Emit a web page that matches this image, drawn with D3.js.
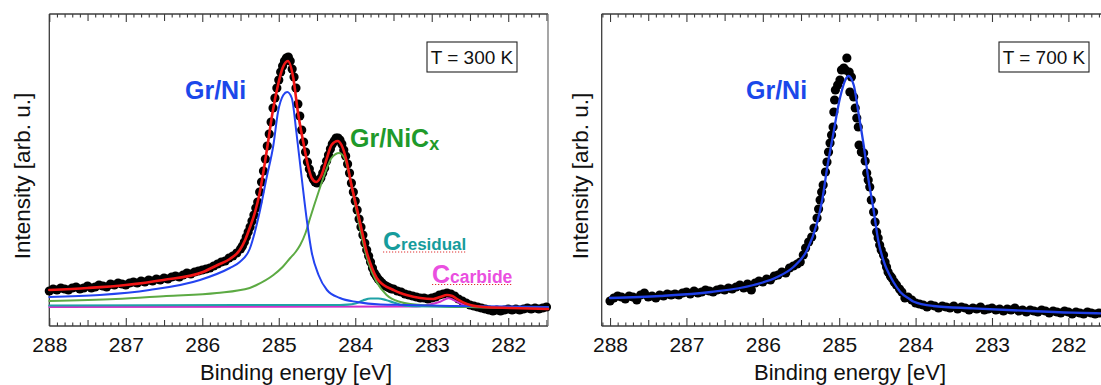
<!DOCTYPE html>
<html><head><meta charset="utf-8">
<script src="https://cdn.jsdelivr.net/npm/d3@7"></script>
<style>
html,body{margin:0;padding:0;background:#fff;}
svg{display:block;font-family:"Liberation Sans",Arial,Helvetica,sans-serif;}
</style></head><body>
<svg id="chart" width="1101" height="385"></svg>
<script>
// ---------- DATA ----------
const xTickValues = [288, 287, 286, 285, 284, 283, 282];
const xTickLabels = ["288", "287", "286", "285", "284", "283", "282"];
const axisTitleX = "Binding energy [eV]";
const axisTitleY = "Intensity [arb. u.]";
const tempLabels = ["T = 300 K", "T = 700 K"];

// Panel A (300 K): measured points
const energyDotsA = [
288.00,287.95,287.90,287.85,287.80,287.75,287.70,287.65,287.60,287.55,
287.50,287.45,287.40,287.35,287.30,287.25,287.20,287.15,287.10,287.05,
287.00,286.95,286.90,286.85,286.80,286.75,286.70,286.65,286.60,286.55,
286.50,286.45,286.40,286.35,286.30,286.25,286.20,286.15,286.10,286.05,
286.00,285.95,285.90,285.85,285.80,285.75,285.70,285.65,285.60,285.55,
285.50,
285.475,285.45,285.425,285.40,285.375,285.35,285.325,285.30,285.275,285.25,
285.225,285.20,285.175,285.15,285.125,285.10,285.075,285.05,285.025,285.00,
284.975,284.95,284.925,284.90,284.875,284.85,284.825,284.80,284.775,284.75,
284.725,284.70,284.675,284.65,284.625,284.60,284.575,284.55,284.525,284.50,
284.475,284.45,284.425,284.40,
284.375,284.35,284.325,284.30,284.275,284.25,284.225,284.20,284.175,284.15,
284.125,284.10,284.075,284.05,284.025,284.00,283.975,283.95,283.925,283.90,
283.875,283.85,283.825,283.80,283.775,283.75,283.725,283.70,283.675,283.65,
283.625,283.60,283.575,283.55,283.525,283.50,
283.45,283.40,283.35,283.30,283.25,283.20,283.15,283.10,283.05,283.00,
282.95,282.90,282.85,282.80,282.75,282.70,282.65,282.60,282.55,282.50,
282.45,282.40,282.35,282.30,282.25,282.20,282.15,282.10,282.05,282.00,
281.95,281.90,281.85,281.80,281.75,281.70,281.65,281.60,281.55,281.50];
const countsDotsA = [
35,37,36,38,37,36,38,39,37,38,
40,38,39,41,40,39,42,41,43,42,
41,43,44,43,45,44,46,45,47,46,
48,47,49,50,49,51,53,52,54,55,
56,57,58,60,62,64,65,68,70,73,
77,
80,84,89,94,99,105,111,118,124,134,
144,155,167,180,192,204,218,228,238,246,
254,260,265,268,269,265,257,249,238,222,
210,196,184,174,164,157,151,147,144,143,
145,148,153,158,
165,171,177,182,185,188,188,186,182,176,
170,162,153,143,134,125,116,107,99,91,
83,76,70,64,58,53,50,47,45,43,
41,40,39,38,37,37,
35,34,32,31,30,29,28,28,27,28,
29,31,32,33,32,30,27,25,23,21,
20,19,18,17,16,15,16,15,16,17,
16,17,16,17,18,17,18,17,18,19];

// Panel A: total fit (red)
const energyFitA = [288.00,287.50,287.00,286.51,285.99,285.80,285.64,285.51,285.44,285.38,285.31,285.25,285.18,285.14,285.08,285.01,284.95,284.88,284.81,284.75,284.68,284.61,284.57,284.51,284.44,284.37,284.31,284.23,284.18,284.11,284.05,283.98,283.91,283.85,283.78,283.72,283.63,283.50,283.41,283.33,283.15,282.98,282.89,282.80,282.73,282.67,282.54,282.33,281.97,281.48];
const totalFitA = [36,38,41,46,54,61,67,76,86,98,114,133,164,184,214,241,258,265,248,214,184,158,148,144,151,168,181,185,181,164,141,118,94,74,58,48,41,36,33,31,28,27,29,31,30,27,22,19,18,17];

// Panel A: Gr/Ni component (blue)
const energyGrNiA = [288.00,287.34,286.69,286.03,285.64,285.51,285.38,285.25,285.16,285.07,285.01,284.94,284.89,284.83,284.77,284.70,284.63,284.57,284.48,284.37,284.20,283.98,283.67,283.33,282.76,281.48];
const grNiA = [29,31,36,46,58,64,77,114,148,181,214,231,234,228,194,148,104,74,51,36,28,24,21.5,21,20,19];

// Panel A: Gr/NiCx component (green)
const energyGrNiCxA = [288.00,287.13,286.47,285.81,285.38,285.29,285.07,284.95,284.85,284.78,284.72,284.65,284.59,284.48,284.39,284.31,284.21,284.13,284.07,283.98,283.91,283.83,283.72,283.59,283.41,283.28,282.76,281.48];
const grNiCxA = [25,27,30,33,38,41,51,59,68,74,81,93,108,134,154,168,173,166,148,114,88,64,44,31,24,22,19.5,18];

// Panel A: C residual component (teal)
const energyResidualA = [288.00,285.50,284.20,284.10,284.00,283.90,283.80,283.70,283.60,283.50,283.40,283.30,282.50,281.48];
const residualA = [20.5,21,21,21.3,22.5,25.5,27.5,27.5,26,23.5,21,20,19,18.5];

// Panel A: C carbide component (magenta)
const energyCarbideA = [288.00,283.20,283.06,282.89,282.78,282.67,282.54,282.30,281.48];
const carbideA = [19,19.5,21,24.3,27.7,24.3,20,19,18.5];

// Panel B (700 K): measured points
const energyDotsB = [
288.00,287.95,287.90,287.85,287.80,287.75,287.70,287.65,287.60,287.55,
287.50,287.45,287.40,287.35,287.30,287.25,287.20,287.15,287.10,287.05,
287.00,286.95,286.90,286.85,286.80,286.75,286.70,286.65,286.60,286.55,
286.50,286.45,286.40,286.35,286.30,286.25,286.20,286.15,286.10,286.05,
286.00,285.95,285.90,285.85,285.80,285.75,285.70,285.65,285.60,
285.55,285.51,285.47,285.44,285.40,285.36,285.33,285.29,285.27,285.25,
285.23,285.21,285.18,285.16,285.14,285.12,285.10,285.08,285.07,285.06,
285.05,285.02,284.99,284.97,284.94,284.92,284.90,284.87,284.86,284.84,
284.81,284.79,284.77,284.75,284.74,284.71,284.68,284.66,284.64,284.62,
284.60,284.58,284.55,284.53,284.51,284.49,284.47,284.45,284.42,284.40,
284.38,284.36,284.33,284.31,284.28,284.25,284.21,284.18,284.14,284.10,
284.05,284.00,283.95,283.90,283.85,283.80,283.75,283.70,283.65,283.60,
283.55,283.50,283.45,283.40,283.35,283.30,283.25,283.20,283.15,283.10,
283.05,283.00,282.95,282.90,282.85,282.80,282.75,282.70,282.65,282.60,
282.55,282.50,282.45,282.40,282.35,282.30,282.25,282.20,282.15,282.10,
282.05,282.00,281.95,281.90,281.85,281.80,281.75,281.70,281.65,281.60];
const countsDotsB = [
25,28,30,29,27,30,29,26,31,33,
29,30,28,31,30,32,31,32,31,33,
34,32,35,33,34,36,35,34,36,37,
36,38,37,39,41,38,42,36,43,45,
44,47,46,50,51,54,53,58,60,
62,64,71,78,84,89,98,108,117,126,
134,141,154,164,174,183,191,199,214,226,
236,241,246,256,258,256,268,254,234,249,
229,218,208,199,181,174,173,165,153,146,
139,126,114,104,94,88,81,76,71,64,
59,54,50,48,44,41,37,34,28,29,
26,23,22,21,19,21,20,18,20,19,
18,20,17,19,18,16,18,17,19,16,
17,18,16,17,15,17,16,18,15,16,
14,16,15,14,16,15,13,15,14,13,
15,14,12,14,13,12,14,13,12,13];

// Panel B: Gr/Ni fit (blue)
const energyFitB = [288.00,287.34,286.68,286.12,285.81,285.60,285.42,285.29,285.22,285.16,285.08,284.99,284.92,284.88,284.81,284.75,284.68,284.62,284.55,284.49,284.40,284.34,284.29,284.20,284.08,284.03,283.77,283.25,282.60,281.95,281.55];
const fitB = [28,30,34,41,49,59,76,103,127,157,191,228,246,250,241,214,181,148,116,86,61,51,44,34,27,24.5,20,17.7,15.3,13.3,12.6];

// ---------- DRAWING ----------
const svg = d3.select("#chart");
const plotTop = 14, plotBottom = 326;
const y = d3.scaleLinear().domain([0, 312]).range([plotBottom, plotTop]);
const frameColor = "#3c3c3c";
const FONT = '"Liberation Sans", Arial, Helvetica, sans-serif';

function zip(e, v) { return e.map((d, i) => ({ e: d, v: v[i] })); }

function drawPanel(cfg) {
  const x = d3.scaleLinear().domain(cfg.domain).range([cfg.x0, cfg.x1]);
  const g = svg.append("g");
  const lo = Math.min(...cfg.domain), hi = Math.max(...cfg.domain);
  const all = d3.range(Math.ceil(lo * 10 - 1e-6), Math.floor(hi * 10 + 1e-6) + 1).map(d => d / 10);
  const minor = all.filter(d => Math.round(d * 10) % 5 !== 0);
  const half = all.filter(d => Math.round(d * 10) % 5 === 0 && Math.round(d * 10) % 10 !== 0);
  const major = xTickValues.filter(d => d >= lo && d <= hi);

  function tickAxis(axisFn, yPos, values, len, labels) {
    const ax = axisFn(x).tickValues(values).tickSizeInner(-len).tickSizeOuter(0);
    if (labels) ax.tickPadding(11).tickFormat(d => xTickLabels[xTickValues.indexOf(d)]);
    else ax.tickFormat("");
    const a = g.append("g").attr("transform", `translate(0,${yPos})`).call(ax);
    a.select(".domain").remove();
    a.selectAll(".tick line").attr("stroke", frameColor).attr("stroke-width", 1.1);
    a.selectAll(".tick text").attr("font-size", 21).attr("font-family", FONT).attr("fill", "#111");
  }
  tickAxis(d3.axisBottom, plotBottom, minor, 3.5, false);
  tickAxis(d3.axisBottom, plotBottom, half, 6, false);
  tickAxis(d3.axisBottom, plotBottom, major, 8, true);
  tickAxis(d3.axisTop, plotTop, minor, 3.5, false);
  tickAxis(d3.axisTop, plotTop, half, 7, false);
  tickAxis(d3.axisTop, plotTop, major, 8, false);

  // frame
  const fr = g.append("g").attr("stroke", frameColor).attr("stroke-width", 1.3).attr("fill", "none");
  fr.append("line").attr("x1", cfg.x0).attr("x2", cfg.x0).attr("y1", plotTop).attr("y2", plotBottom);
  fr.append("line").attr("x1", cfg.x0).attr("x2", cfg.x1).attr("y1", plotTop).attr("y2", plotTop);
  fr.append("line").attr("x1", cfg.x0).attr("x2", cfg.x1).attr("y1", plotBottom).attr("y2", plotBottom);
  if (cfg.rightEdge) fr.append("line").attr("x1", cfg.x1).attr("x2", cfg.x1).attr("y1", plotTop).attr("y2", plotBottom).attr("stroke", "#777");

  // dots
  g.append("g").selectAll("circle").data(zip(cfg.dotsE, cfg.dotsV)).join("circle")
    .attr("cx", d => x(d.e)).attr("cy", d => y(d.v)).attr("r", 4.6).attr("fill", "#000");

  const line = d3.line().x(d => x(d.e)).y(d => y(d.v)).curve(d3.curveMonotoneX);
  cfg.lines.forEach(L => {
    g.append("path").datum(zip(L.e, L.v)).attr("d", line)
      .attr("fill", "none").attr("stroke", L.color).attr("stroke-width", L.w)
      .attr("stroke-linejoin", "round").attr("stroke-linecap", "round");
  });

  // axis titles
  g.append("text").attr("x", cfg.titleX).attr("y", 379.5).attr("text-anchor", "middle")
    .attr("font-size", 22).attr("font-family", FONT).attr("fill", "#111").text(axisTitleX);
  g.append("text").attr("transform", `translate(${cfg.yTitleX},176) rotate(-90)`).attr("text-anchor", "middle")
    .attr("font-size", 22.5).attr("font-family", FONT).attr("fill", "#111").text(axisTitleY);

  // temperature box
  g.append("rect").attr("x", cfg.boxX).attr("y", 42).attr("width", 90).attr("height", 30)
    .attr("fill", "#fff").attr("stroke", "#222").attr("stroke-width", 1.1);
  g.append("text").attr("x", cfg.boxX + 45).attr("y", 63.5).attr("text-anchor", "middle")
    .attr("font-size", 19).attr("font-family", FONT).attr("fill", "#111").text(cfg.temp);
  return { g, x };
}

const A = drawPanel({
  domain: [288, 281.48], x0: 49.3, x1: 548, rightEdge: true,
  dotsE: energyDotsA, dotsV: countsDotsA,
  lines: [
    { e: energyCarbideA, v: carbideA, color: "#cf2fc8", w: 2 },
    { e: energyResidualA, v: residualA, color: "#1fa2a6", w: 2.2 },
    { e: energyGrNiCxA, v: grNiCxA, color: "#5caa43", w: 2 },
    { e: energyGrNiA, v: grNiA, color: "#2343f0", w: 2 },
    { e: energyFitA, v: totalFitA, color: "#f01515", w: 2.6 }
  ],
  titleX: 296, yTitleX: 30, boxX: 427, temp: tempLabels[0]
});

const B = drawPanel({
  domain: [288.109, 281.573], x0: 601.7, x1: 1101, rightEdge: false,
  dotsE: energyDotsB, dotsV: countsDotsB,
  lines: [
    { e: energyFitB, v: fitB, color: "#1f3fe6", w: 2.3 }
  ],
  titleX: 850, yTitleX: 588, boxX: 999, temp: tempLabels[1]
});

// annotations
function label(x0, y0, parts, color) {
  const t = svg.append("text").attr("x", x0).attr("y", y0).attr("font-family", FONT)
    .attr("font-weight", "bold").attr("fill", color);
  parts.forEach(p => t.append("tspan").attr("font-size", p.size).attr("dy", p.dy || 0).text(p.text));
  return t;
}
label(185, 99, [{ text: "Gr/Ni", size: 25 }], "#1b48ea");
label(350, 147, [{ text: "Gr/NiC", size: 25 }, { text: "x", size: 18, dy: 2.5 }], "#1f9a2b");
label(383, 249.5, [{ text: "C", size: 25 }, { text: "residual", size: 17, dy: 0.5 }], "#169c9c");
label(432, 282.5, [{ text: "C", size: 25 }, { text: "carbide", size: 17.5, dy: 0.5 }], "#ea4fe0");
label(746, 99, [{ text: "Gr/Ni", size: 25 }], "#1b48ea");

// dotted underlines under the component labels
[[383, 467, 252], [432, 512, 284.5]].forEach(u => {
  svg.append("line").attr("x1", u[0]).attr("x2", u[1]).attr("y1", u[2]).attr("y2", u[2])
    .attr("stroke", "#e03030").attr("stroke-width", 1.1).attr("stroke-dasharray", "1.2,1.8");
});
</script>
</body></html>
